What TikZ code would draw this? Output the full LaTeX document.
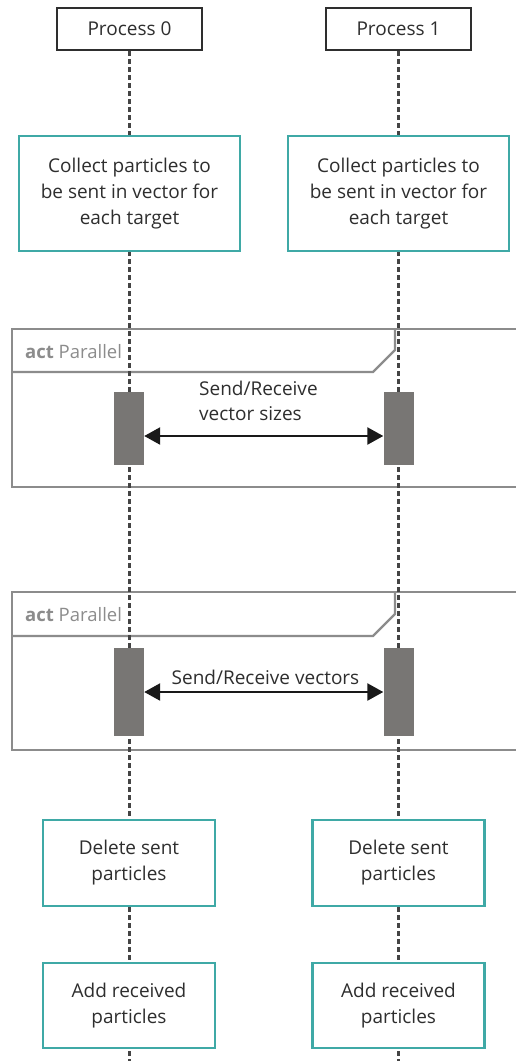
\documentclass[tikz,border=0pt]{standalone}
\usepackage{fontspec}
\setmainfont{Open Sans}
\usetikzlibrary{arrows.meta}
\definecolor{teal1}{HTML}{3FA9A6}
\definecolor{txt}{HTML}{2E2E2E}
\definecolor{frm}{HTML}{8C8C8C}
\definecolor{barc}{HTML}{787674}
\definecolor{lifec}{HTML}{444444}
\tikzset{
  procbox/.style={draw=txt, line width=2pt, fill=white, minimum width=145pt, minimum height=42pt, inner sep=0pt, font=\fontsize{19}{22}\selectfont, text=txt},
  taskbox/.style={draw=teal1, line width=2.2pt, fill=white, inner sep=0pt, align=center, font=\fontsize{19}{26}\selectfont, text=txt},
  lifeline/.style={draw=lifec, line width=2.2pt, dash pattern=on 5pt off 3pt},
  actbar/.style={fill=barc, draw=none, minimum width=30pt, inner sep=0pt},
  frameline/.style={draw=frm, line width=2.2pt},
  msg/.style={draw=black!90, line width=2.4pt, {Triangle[length=16pt,width=17pt]}-{Triangle[length=16pt,width=17pt]}},
  frametitle/.style={font=\fontsize{18.5}{22}\selectfont, text=frm, anchor=base west, inner sep=0pt},
  msglabel/.style={font=\fontsize{19}{25}\selectfont, text=txt, inner sep=0pt}
}
\begin{document}
\begin{tikzpicture}[x=1pt,y=-1pt]
\useasboundingbox (0,0) rectangle (516,1061);
\fill[white] (0,0) rectangle (516,1061);
% process heads
\node[procbox] (p0) at (129.5,29) {Process 0};
\node[procbox] (p1) at (398.5,29) {Process 1};
\coordinate (e0) at (129.5,1061);
\coordinate (e1) at (398.5,1061);
% frames
\draw[frameline] (516,329) -- (12,329) -- (12,487) -- (516,487);
\draw[frameline] (12,372) -- (373,372) -- (395,350) -- (395,329);
\draw[frameline] (516,592) -- (12,592) -- (12,750) -- (516,750);
\draw[frameline] (12,636) -- (373,636) -- (395,614) -- (395,592);
\node[frametitle] (t1) at (25,358) {\textbf{act} Parallel};
\node[frametitle] (t2) at (25,621) {\textbf{act} Parallel};
% lifelines
\draw[lifeline] (p0.south) -- (e0);
\draw[lifeline] (p1.south) -- (e1);
% task boxes
\node[taskbox, minimum width=221pt, minimum height=115pt] (c0) at (129.5,193.5) {Collect particles to\\be sent in vector for\\each target};
\node[taskbox, minimum width=221pt, minimum height=115pt] (c1) at (398.5,193.5) {Collect particles to\\be sent in vector for\\each target};
\node[taskbox, minimum width=172pt, minimum height=86pt] (d0) at (129,863) {Delete sent\\particles};
\node[taskbox, minimum width=172pt, minimum height=86pt] (d1) at (398.5,863) {Delete sent\\particles};
\node[taskbox, minimum width=172pt, minimum height=85pt] (a0) at (129,1005.5) {Add received\\particles};
\node[taskbox, minimum width=172pt, minimum height=85pt] (a1) at (398.5,1005.5) {Add received\\particles};
% activation bars
\node[actbar, minimum height=73pt] (b1l) at (129,428.5) {};
\node[actbar, minimum height=73pt] (b1r) at (398.5,428.5) {};
\node[actbar, minimum height=88pt] (b2l) at (129,692) {};
\node[actbar, minimum height=88pt] (b2r) at (398.5,692) {};
\coordinate (m1) at (263,436);
\coordinate (m2) at (263,692);
\draw[msg] (b1l.east |- m1) -- (b1r.west |- m1);
\draw[msg] (b2l.east |- m2) -- (b2r.west |- m2);
\node[msglabel, align=left, anchor=north west] (l1) at (199,381) {Send/Receive\\vector sizes};
\node[msglabel] (l2) at (265.5,677) {Send/Receive vectors};
\end{tikzpicture}
\end{document}
